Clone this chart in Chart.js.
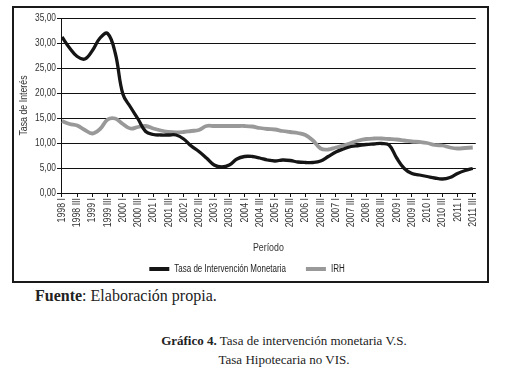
<!DOCTYPE html>
<html>
<head>
<meta charset="utf-8">
<script src="https://cdn.jsdelivr.net/npm/chart.js@4.4.1/dist/chart.umd.min.js"></script>
<style>
  body { margin: 0; background: #fff; width: 514px; height: 387px; position: relative; overflow: hidden; }
  #frame { position: absolute; left: 12px; top: 6px; width: 477px; height: 277px; box-sizing: border-box; border: 2px solid #1a1a1a; }
  #chartBox { position: absolute; left: 0; top: 0; width: 473px; height: 273px; }
  .serif { font-family: 'Liberation Serif', 'DejaVu Serif', serif; color: #222; position: absolute; }
  #fuente { left: 35px; top: 287px; font-size: 16px; }
  #caption { left: 84px; width: 400px; top: 331px; font-size: 13px; text-align: center; line-height: 19px; }
</style>
</head>
<body>
<div id="frame"><div id="chartBox"><canvas id="rateChart"></canvas></div></div>
<div id="fuente" class="serif"><b>Fuente</b>: Elaboración propia.</div>
<div id="caption" class="serif"><b>Gráfico 4.</b> Tasa de intervención monetaria V.S.<br>Tasa Hipotecaria no VIS.</div>
<script>
// Quarters, 1998 I to 2011 III
const periods = [
    '1998 I', '1998 II', '1998 III', '1998 IV', '1999 I', '1999 II', '1999 III', '1999 IV',
    '2000 I', '2000 II', '2000 III', '2000 IV', '2001 I', '2001 II', '2001 III', '2001 IV',
    '2002 I', '2002 II', '2002 III', '2002 IV', '2003 I', '2003 II', '2003 III', '2003 IV',
    '2004 I', '2004 II', '2004 III', '2004 IV', '2005 I', '2005 II', '2005 III', '2005 IV',
    '2006 I', '2006 II', '2006 III', '2006 IV', '2007 I', '2007 II', '2007 III', '2007 IV',
    '2008 I', '2008 II', '2008 III', '2008 IV', '2009 I', '2009 II', '2009 III', '2009 IV',
    '2010 I', '2010 II', '2010 III', '2010 IV', '2011 I', '2011 II', '2011 III'
];

// Tasa de Intervención Monetaria
const tasaIntervencion = [
    31.2, 29.0, 27.3, 26.8, 28.5, 31.0, 31.9, 28.0,
    19.8, 17.2, 14.8, 12.3, 11.7, 11.6, 11.6, 11.6,
    10.8, 9.4, 8.3, 7.0, 5.6, 5.2, 5.6, 6.8,
    7.3, 7.3, 7.0, 6.6, 6.4, 6.6, 6.5, 6.2,
    6.1, 6.1, 6.4, 7.3, 8.2, 8.8, 9.3, 9.5,
    9.7, 9.8, 9.9, 9.6, 7.0, 4.9, 3.9, 3.6,
    3.3, 3.0, 2.8, 3.1, 3.9, 4.5, 4.9
];

// IRH
const irh = [
    14.4, 13.8, 13.5, 12.6, 11.9, 12.8, 14.7, 14.9,
    13.8, 12.9, 13.2, 13.4, 12.9, 12.5, 12.2, 12.1,
    12.2, 12.4, 12.6, 13.4, 13.4, 13.4, 13.4, 13.4,
    13.4, 13.3, 13.0, 12.8, 12.7, 12.4, 12.2, 12.0,
    11.6, 10.5, 8.9, 8.7, 9.1, 9.5, 10.0, 10.5,
    10.8, 10.9, 10.9, 10.8, 10.7, 10.5, 10.3, 10.2,
    10.0, 9.6, 9.5, 9.1, 8.9, 9.0, 9.1
];

// Only every other quarter gets a tick label
const tickIndexes = [0, 2, 4, 6, 8, 10, 12, 14, 16, 18, 20, 22, 24, 26,
    28, 30, 32, 34, 36, 38, 40, 42, 44, 46, 48, 50, 52, 54];
const yTicks = [0, 5, 10, 15, 20, 25, 30, 35];

const sansFamily = "'Liberation Sans', Arial, sans-serif";

// No condensed font is installed, so squeeze the chart's text horizontally
function condenseText(ctx, factor) {
    const fillText = ctx.fillText.bind(ctx);
    const measureText = ctx.measureText.bind(ctx);
    ctx.fillText = function(text, x, y, maxWidth) {
        ctx.save();
        ctx.translate(x, y);
        ctx.scale(factor, 1);
        if (maxWidth !== undefined) {
            fillText(text, 0, 0, maxWidth / factor);
        } else {
            fillText(text, 0, 0);
        }
        ctx.restore();
    };
    ctx.measureText = function(text) {
        const m = measureText(text);
        return {
            width: m.width * factor,
            actualBoundingBoxAscent: m.actualBoundingBoxAscent,
            actualBoundingBoxDescent: m.actualBoundingBoxDescent,
            actualBoundingBoxLeft: m.actualBoundingBoxLeft * factor,
            actualBoundingBoxRight: m.actualBoundingBoxRight * factor
        };
    };
}

function toPoints(values) {
    return values.map((v, i) => ({ x: i, y: v }));
}

function renderRateChart() {
    const ctx = document.getElementById('rateChart').getContext('2d');
    condenseText(ctx, 0.8);

    new Chart(ctx, {
        type: 'line',
        data: {
            datasets: [{
                label: 'Tasa de Intervención Monetaria',
                data: toPoints(tasaIntervencion),
                borderColor: '#151515',
                backgroundColor: '#151515',
                borderWidth: 3.3,
                tension: 0.4,
                pointRadius: 0
            }, {
                label: 'IRH',
                data: toPoints(irh),
                borderColor: '#999999',
                backgroundColor: '#999999',
                borderWidth: 3.8,
                tension: 0.4,
                pointRadius: 0
            }]
        },
        options: {
            responsive: true,
            maintainAspectRatio: false,
            animation: { duration: 0 },
            layout: {
                padding: { top: 10, right: 7, bottom: -3, left: 0 }
            },
            plugins: {
                tooltip: { enabled: false },
                legend: {
                    display: true,
                    position: 'bottom',
                    labels: {
                        boxWidth: 20,
                        boxHeight: 4,
                        padding: 20,
                        color: '#222',
                        font: { family: sansFamily, size: 10 },
                        generateLabels: function(chart) {
                            const items = Chart.defaults.plugins.legend.labels.generateLabels(chart);
                            return items.map(item => Object.assign(item, { lineWidth: 0 }));
                        }
                    }
                }
            },
            scales: {
                x: {
                    type: 'linear',
                    min: -0.13,
                    max: 54.4,
                    afterBuildTicks: function(scale) {
                        scale.ticks = tickIndexes.map(v => ({ value: v }));
                    },
                    afterFit: function(scale) {
                        scale.height = 51;
                    },
                    border: { color: '#111', width: 1 },
                    grid: {
                        drawOnChartArea: false,
                        drawTicks: true,
                        tickLength: 4,
                        color: '#111'
                    },
                    ticks: {
                        autoSkip: false,
                        maxRotation: 90,
                        minRotation: 90,
                        padding: 1,
                        color: '#333',
                        font: { family: sansFamily, size: 11 },
                        callback: function(value) {
                            return periods[value];
                        }
                    },
                    title: {
                        display: true,
                        text: 'Período',
                        color: '#333',
                        font: { family: sansFamily, size: 11 },
                        padding: { top: 8, bottom: -11 }
                    }
                },
                y: {
                    min: 0,
                    max: 35,
                    afterBuildTicks: function(scale) {
                        scale.ticks = yTicks.map(v => ({ value: v }));
                    },
                    afterFit: function(scale) {
                        scale.width = 47;
                    },
                    border: { color: '#111', width: 1 },
                    grid: {
                        color: '#111',
                        lineWidth: 1,
                        tickLength: 4
                    },
                    ticks: {
                        padding: 1,
                        color: '#333',
                        font: { family: sansFamily, size: 10.5 },
                        callback: function(value) {
                            return value.toFixed(2).replace('.', ',');
                        }
                    },
                    title: {
                        display: true,
                        text: 'Tasa de Interés',
                        color: '#333',
                        font: { family: sansFamily, size: 11 },
                        padding: { top: 3, bottom: 2 }
                    }
                }
            }
        }
    });
}

document.addEventListener('DOMContentLoaded', function() {
    renderRateChart();
});
</script>
</body>
</html>
